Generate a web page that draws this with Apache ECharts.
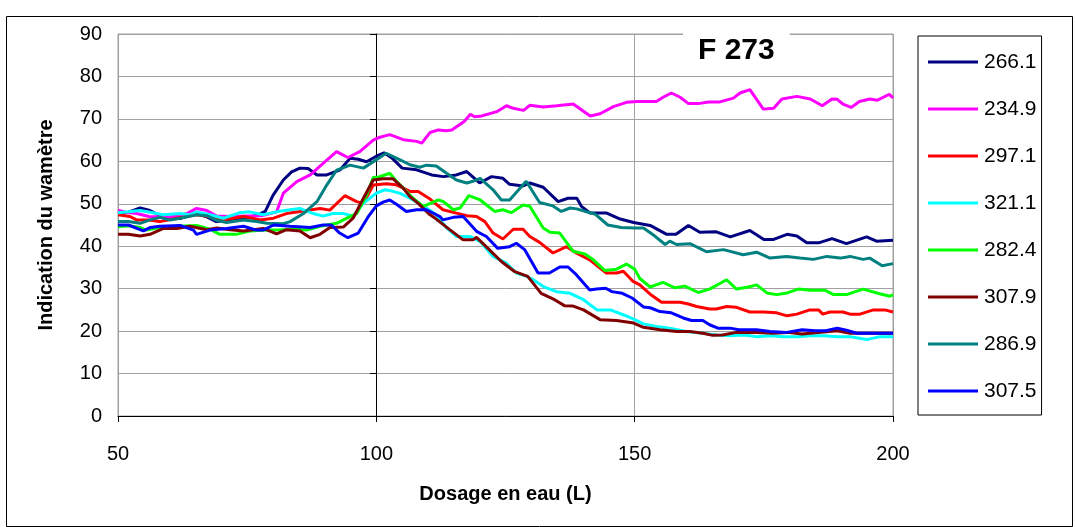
<!DOCTYPE html>
<html>
<head>
<meta charset="utf-8">
<script src="https://cdn.jsdelivr.net/npm/echarts@6/dist/echarts.min.js"></script>
<style>
html,body{margin:0;padding:0;background:#fff;}
#c{width:1075px;height:527px;}
</style>
</head>
<body>
<div id="c"></div>
<script>
// ---- data (x = Dosage en eau (L), y = Indication du wamètre) ----
const seriesNames = ['266.1','234.9','297.1','321.1','282.4','307.9','286.9','307.5'];
const seriesColors = ['#000080','#FF00FF','#FF0000','#00FFFF','#00FF00','#800000','#008080','#0000FF'];
const xTicks = [50, 100, 150, 200];
const yTicks = [0,10,20,30,40,50,60,70,80,90];

const s2661 = [[50,47.5],[52,48],[54.3,49],[56,48.5],[58,47.3],[60,46.8],[62,46.5],[64.9,47.8],[67,47],[69,45.8],[71,46],[73,46.5],[75,46.6],[77.5,47.6],[78.5,48.2],[80,52],[82,55.6],[83.6,57.5],[85.2,58.4],[86.8,58.3],[88.5,56.8],[90.4,56.8],[93,58],[94.9,60.7],[96.5,60.5],[98.1,59.9],[100,61.2],[101.5,62],[103,60.8],[105,58.4],[107.8,58],[110.7,56.8],[113,56.4],[115.5,56.8],[117.5,57.6],[120,54.9],[122.3,56.4],[124.5,56],[125.8,54.6],[128.4,54.2],[129.7,54.9],[132.3,53.9],[135.2,50.5],[137.1,51.3],[138.8,51.3],[139.7,49.4],[141.4,47.8],[144.6,47.8],[147.2,46.4],[149.8,45.6],[153,44.9],[156.2,42.8],[158,42.8],[160.4,44.9],[162.6,43.3],[165.8,43.4],[168.5,42.2],[172.3,43.7],[175,41.6],[176.9,41.6],[179.5,42.8],[181.4,42.4],[183.3,40.8],[185.6,40.8],[188.2,41.8],[191,40.6],[194.9,42.2],[196.8,41.2],[200,41.4]];

const s2349 = [[50,48.5],[51.5,48],[53.6,47.7],[56,47],[59.4,46.8],[62,47.2],[63.5,47.8],[65.2,48.9],[67.2,48.4],[69.1,47.1],[72,47],[75,47.1],[78,47.2],[80.7,48.1],[82,52.5],[84.6,55.2],[87.2,56.8],[89.7,59.5],[92.3,62.3],[94.5,60.9],[96.8,62.3],[99.4,65],[100.5,65.6],[102.6,66.3],[105.2,65.1],[107.8,64.7],[108.8,64.3],[110.4,66.8],[112,67.4],[113.5,67.2],[114.6,67.4],[117,69.4],[118.2,71.1],[119,70.5],[120.1,70.6],[123.3,71.7],[125.2,73.1],[126.5,72.5],[128.5,72],[129.7,73.2],[132.3,72.8],[134.9,73.1],[138.1,73.5],[141.4,70.7],[143.3,71.2],[145.9,72.9],[148.4,73.9],[150.5,74.1],[152.5,74.1],[154.2,74.1],[155.5,75.1],[157.1,76.1],[158.8,75.1],[160.4,73.6],[162.3,73.6],[164.3,74],[166.5,74],[169.1,74.9],[170.4,76.1],[172.3,76.9],[174.9,72.3],[176.9,72.5],[178.5,74.7],[181.4,75.3],[184,74.7],[186.3,73.1],[188.2,74.7],[189.2,74.6],[190.3,73.5],[191.9,72.7],[193.5,74.1],[195.5,74.7],[197,74.4],[199.3,75.8],[200,74.9]];

const s2971 = [[50,47.4],[52.3,47],[53.6,46.2],[56,46.2],[58.1,45.8],[61.4,46.6],[65.2,47.4],[67.5,47],[70.4,46.2],[74.3,47],[77.5,46.2],[80.1,46.6],[82.6,47.7],[85.9,48.3],[89.1,48.9],[91,48.5],[93.9,51.9],[96.2,50.5],[97.5,50.1],[99.4,54.4],[101.9,54.7],[103.8,54.5],[106.5,52.9],[108.1,52.9],[110.4,51.1],[112.9,48.6],[115.5,47.8],[117.5,47.2],[119.4,47],[121,45.8],[122.6,43.1],[124.5,41.7],[126.5,44],[128.4,44],[129.7,42.3],[131.6,40.9],[134.2,38.4],[136.8,39.9],[138.7,38.4],[141.3,36.8],[144.5,33.7],[146.5,33.7],[147.8,34.1],[149.7,31.7],[151,30.9],[153,28.7],[155.2,26.8],[158.8,26.8],[160.4,26.4],[162,25.8],[164.5,25.2],[165.8,25.2],[167.8,25.8],[169.7,25.6],[172.3,24.5],[175,24.5],[177.5,24.3],[179.5,23.6],[181.4,24],[183.9,25],[185.6,25],[186.4,24],[187.8,24.5],[190.3,24.5],[191.7,24],[193.6,24],[196.2,25],[198.4,25],[200,24.5]];

const s3211 = [[50,47.9],[52,48.1],[54.3,48.4],[56.2,48],[58.8,47.4],[62,47.7],[63.9,47.4],[65.2,48.1],[67.8,47.4],[70.4,46.6],[73.6,47.9],[75.5,48.1],[78.1,47.4],[80.7,48.1],[83.3,48.6],[85.2,48.9],[87.8,47.7],[89.7,47.1],[91.6,47.7],[93.6,47.7],[95.5,47.1],[97.5,50.1],[100,52.5],[101.7,53.3],[102.6,53.1],[104.5,52.5],[106.5,51.3],[109.7,49],[111.6,47.4],[113.6,44.3],[115.5,42.3],[118.1,42.3],[120.1,41.1],[122.6,37.6],[125.2,36],[127.1,33.7],[129.1,32.9],[130.4,32.1],[132.3,30.5],[134.9,29.3],[137.5,28.9],[140.1,27.4],[142.7,25],[145.3,25],[147.9,23.8],[149.8,22.8],[151.7,21.7],[154.2,21.1],[156.8,20.7],[160,19.9],[163.2,19.5],[165.8,19.1],[168.5,18.9],[171,19.1],[173.6,18.7],[176.2,18.9],[178.8,18.7],[181.4,18.7],[184,18.9],[186.6,18.9],[189.2,18.7],[191.7,18.7],[194.9,18],[197.5,18.7],[200,18.7]];

const s2824 = [[50,44.6],[52,44.8],[54.3,44.4],[55.5,43.8],[58.1,44.4],[61.4,44.7],[65.2,44.9],[67.8,44],[69.7,42.8],[72.9,42.8],[75.5,43.6],[78.8,43.8],[80.7,43.8],[83.9,44],[86.5,43.8],[89.1,44.7],[92.3,45.4],[94.3,46.6],[96.2,47.7],[98.1,52],[99.4,56.2],[100.5,56.3],[102.6,57.2],[103.9,55.3],[105.2,53.7],[107.1,51.3],[109.1,49.4],[112,50.9],[113,50.5],[114.9,48.6],[116.2,49],[117.9,51.9],[120.1,50.9],[122.9,48.2],[124.5,48.6],[126.1,47.9],[128.4,49.7],[129.7,49.4],[132.3,44.3],[133.6,43.3],[135.5,43.1],[138.1,38.8],[140.3,38.2],[142,36.8],[144.2,34.3],[146.5,34.6],[148.4,35.8],[150,34.6],[151,32.4],[153,30.4],[155.5,31.5],[157.8,30.2],[159.7,30.6],[162.3,29.1],[164.5,29.9],[167.8,32.1],[169.7,29.9],[172,30.4],[173.6,30.9],[175.6,29],[177.5,28.6],[179.5,29],[181.7,29.9],[184,29.6],[186.9,29.6],[188.5,28.6],[191,28.6],[194.2,29.9],[197.4,28.8],[199.4,28.2],[200,28.6]];

const s3079 = [[50,42.8],[52,42.8],[54.3,42.4],[56.2,42.8],[58.8,44.2],[61.4,44.2],[63.9,44.7],[67.2,43.9],[69.1,44.3],[71.7,43.9],[74.3,43.6],[78.1,44.2],[80.7,42.9],[82.6,43.9],[85.2,43.6],[87.2,42],[89.1,42.8],[91,44.4],[93.6,44.5],[95.5,46.6],[97.5,51.3],[99.4,55.6],[101.3,55.9],[103.2,55.9],[105.2,53.7],[106.5,51.7],[108.1,50.1],[110.4,47.4],[111.6,46.4],[114.2,43.9],[116.8,41.5],[118.7,41.5],[119.4,42.1],[121.6,39.5],[124.2,36.4],[126.8,34],[129.3,32.9],[131.9,28.9],[134.5,27.4],[136.4,26],[138.1,25.9],[140.1,25],[143.3,22.7],[146.5,22.5],[149.8,21.9],[151.7,20.9],[154.9,20.3],[158.1,19.9],[160.7,19.9],[163.2,19.5],[165.1,19],[167,19.1],[169.7,19.7],[173.6,19.7],[176.9,19.5],[179.5,19.7],[182.4,19.3],[185.6,19.7],[189.2,20.1],[191.7,19.5],[195,19.5],[200,19.5]];

const s2869 = [[50,45.8],[52,45.8],[54.3,45.4],[56.2,46.2],[58.1,46.8],[60,46.2],[62,46.6],[65.2,47.4],[67.2,47.2],[69.1,46.1],[71,45.6],[74.3,46.2],[76.8,45.8],[78.8,45.4],[82,45.3],[83.3,45.8],[85.9,47.7],[88.5,50.5],[90.4,54.4],[92.3,57.9],[94.9,59.1],[97.5,58.4],[100,60.4],[101.9,61.9],[104.5,60.4],[106.5,59.2],[108.4,58.6],[109.7,59.1],[111.6,58.9],[113.6,57.2],[115.5,55.6],[117.5,54.9],[118.7,55.3],[120.1,56],[122.6,53.3],[124.2,50.9],[125.8,50.9],[129,55.3],[131.6,50.3],[134.2,49.5],[135.8,48.2],[137.5,49],[138.8,48.8],[141,48],[142.3,47.6],[144.8,45],[147.4,44.4],[150,44.3],[151.7,44.3],[153.9,42.4],[155.9,40.4],[156.8,41.2],[158.1,40.4],[160.7,40.6],[163.9,38.7],[167.2,39.2],[171,38],[173.6,38.6],[176.2,37.2],[179.4,37.6],[182,37.2],[184.6,36.9],[187.2,37.6],[189.8,37.2],[191.7,37.6],[194.2,36.9],[195.5,37.2],[197.9,35.4],[200,35.9]];

const s3075 = [[50,45],[52,45],[54.9,43.6],[56.2,44.4],[58.1,44.7],[62,44.9],[64.6,43.8],[65.2,42.8],[67.8,43.8],[71,44.2],[74.3,44.7],[76.8,43.8],[78.1,43.8],[80.1,45],[83.3,44.7],[87.2,44.4],[89.7,45],[91.3,45],[92.9,43.1],[94.5,42],[96.5,43.1],[98.4,46.9],[100,49.5],[101.3,50.4],[102.6,50.9],[103.9,49.9],[105.8,48.2],[107.8,48.6],[109.7,48.6],[112.3,47],[112.9,46.2],[114.9,46.8],[116.8,47],[119.4,43.5],[121.3,42.3],[123.5,39.5],[125.8,39.9],[127.1,40.7],[128.7,39.2],[131.3,33.7],[133.5,33.7],[135.5,35.1],[137.1,35.1],[138.7,33.3],[141.3,29.7],[142.6,29.9],[144.4,30.1],[145.6,29.3],[147.6,28.9],[149.5,27.8],[151.7,25.7],[153,25.5],[154.9,24.6],[157.1,24.3],[159.4,23.1],[161,22.5],[163.2,22.5],[164.5,21.5],[166.1,20.7],[168.5,20.7],[170.1,20.3],[173.6,20.3],[176.2,19.9],[179.4,19.7],[182.4,20.3],[185,20.1],[187,20.1],[189.2,20.7],[191,20.2],[193,19.5],[200,19.5]];

const allData = [s2661, s2349, s2971, s3211, s2824, s3079, s2869, s3075];
const titleText = 'F 273';
const xName = 'Dosage en eau (L)';
const yName = 'Indication du wamètre';

// ---- chart ----
const FONT = "'Liberation Sans', Arial, sans-serif";
const grid = {left: 118, right: 182, top: 34, bottom: 111};
const plotW = 1075 - grid.left - grid.right;
const xMin = 50, xMax = 200, crossX = 100;
const crossOffset = -Math.round((crossX - xMin) / (xMax - xMin) * plotW);

const chart = echarts.init(document.getElementById('c'), null, {renderer: 'canvas'});
chart.setOption({
  animation: false,
  backgroundColor: '#fff',
  textStyle: {fontFamily: FONT},
  graphic: [{
    type: 'rect', left: 4, top: 14, z: -10, silent: true,
    shape: {width: 1066, height: 510},
    style: {fill: 'none', stroke: '#000', lineWidth: 1}
  }],
  title: {
    text: titleText,
    left: 683, top: 31,
    backgroundColor: '#fff',
    padding: [5, 15, 4, 15],
    textStyle: {fontFamily: FONT, fontWeight: 'bold', fontSize: 30, color: '#000'},
    z: 10
  },
  legend: {
    orient: 'vertical',
    left: 918, top: 36,
    width: 125,
    padding: [14, 5, 12, 10],
    itemGap: 23,
    itemWidth: 50, itemHeight: 3,
    icon: 'rect',
    borderColor: '#000', borderWidth: 1,
    backgroundColor: '#fff',
    textStyle: {fontFamily: FONT, fontSize: 21, color: '#000', lineHeight: 24, padding: [0,0,0,1]},
    data: seriesNames
  },
  grid: Object.assign({show: true, borderColor: '#a0a0a0', borderWidth: 1, backgroundColor: '#fff'}, grid),
  xAxis: {
    type: 'value', min: xMin, max: xMax, interval: 50,
    name: xName, nameLocation: 'middle', nameGap: 68,
    nameTextStyle: {fontFamily: FONT, fontWeight: 'bold', fontSize: 20, color: '#000'},
    axisLine: {show: true, lineStyle: {color: '#000', width: 1}},
    axisTick: {show: true, length: 6, lineStyle: {color: '#000'}},
    axisLabel: {margin: 28, fontSize: 20, color: '#000', fontFamily: FONT,
      formatter: v => xTicks.includes(v) ? String(v) : ''},
    splitLine: {show: true, lineStyle: {color: '#a0a0a0', width: 1}}
  },
  yAxis: [{
    type: 'value', min: 0, max: 90, interval: 10,
    name: yName, nameLocation: 'middle', nameGap: 62, nameRotate: 90,
    nameTextStyle: {fontFamily: FONT, fontWeight: 'bold', fontSize: 20, color: '#000'},
    axisLine: {show: false},
    axisTick: {show: false},
    axisLabel: {margin: 16, fontSize: 20, color: '#000', fontFamily: FONT,
      formatter: v => yTicks.includes(v) ? String(v) : ''},
    splitLine: {show: true, lineStyle: {color: '#a0a0a0', width: 1}}
  }, {
    type: 'value', min: 0, max: 90, interval: 10,
    position: 'left', offset: crossOffset,
    axisLine: {show: true, lineStyle: {color: '#000', width: 1}},
    axisTick: {show: true, length: 6, lineStyle: {color: '#000'}},
    axisLabel: {show: false},
    splitLine: {show: false}
  }],
  series: seriesNames.map((n, i) => ({
    name: n,
    type: 'line',
    data: allData[i],
    yAxisIndex: 0,
    showSymbol: false,
    symbol: 'none',
    color: seriesColors[i],
    lineStyle: {color: seriesColors[i], width: 3},
    z: 3 + i
  }))
});
</script>
</body>
</html>
